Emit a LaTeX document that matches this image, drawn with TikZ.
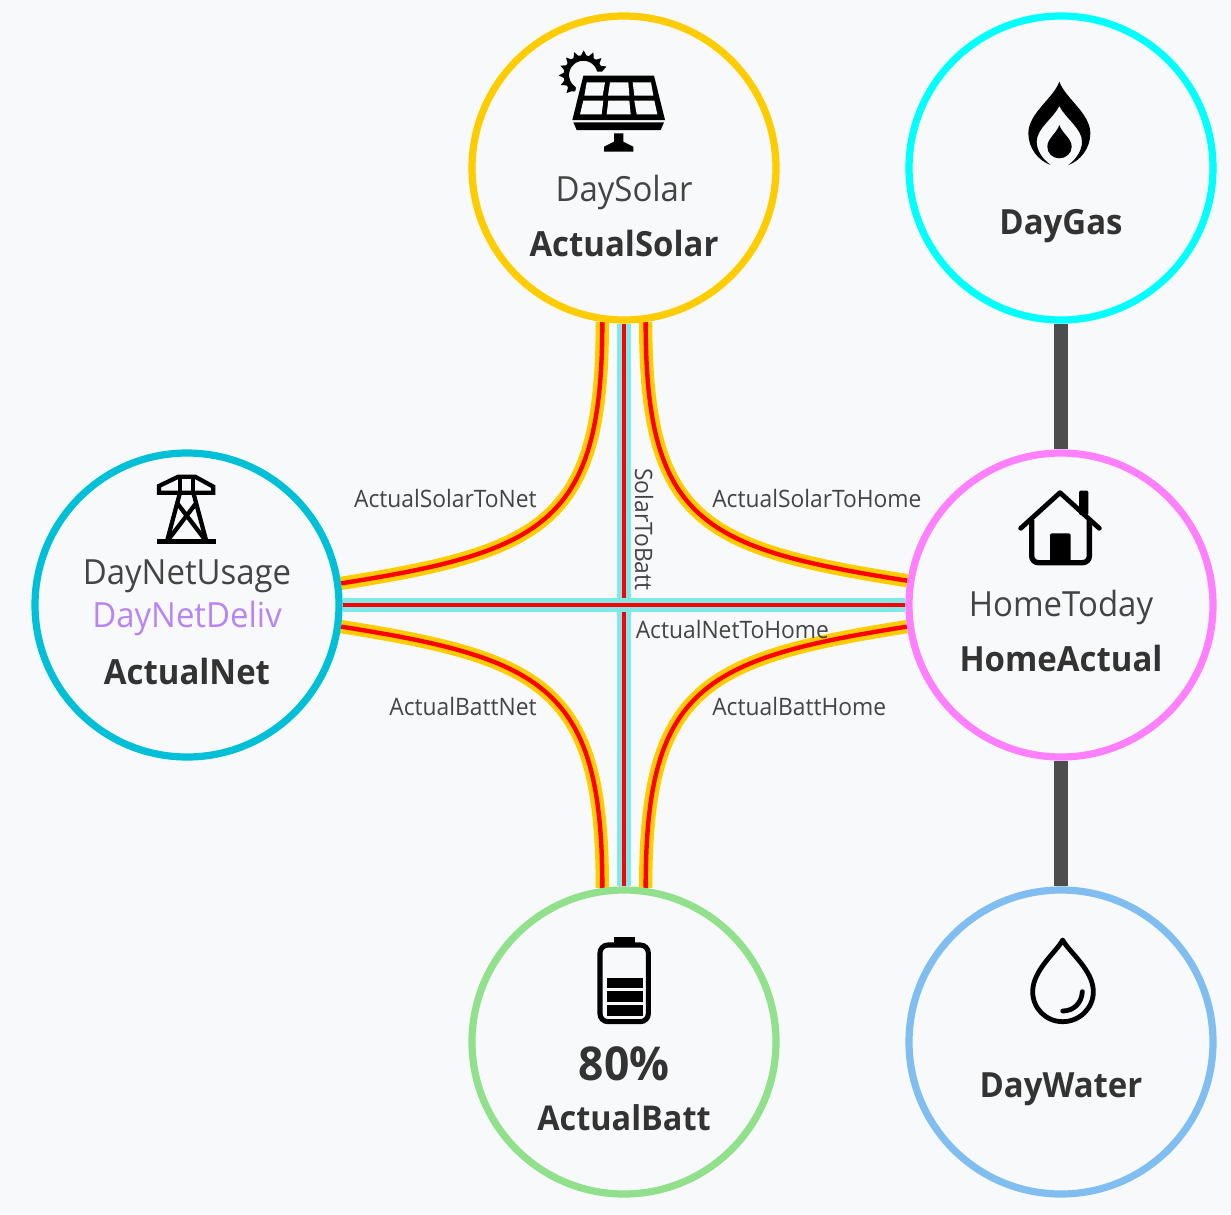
\documentclass[tikz,border=0pt]{standalone}
\usepackage{fontspec}
\setmainfont[FakeStretch=0.95]{Open Sans}
\pgfdeclarelayer{bgl}
\pgfdeclarelayer{links}
\pgfsetlayers{bgl,links,main}
\definecolor{pagebg}{HTML}{F8F9FA}
\definecolor{cyel}{HTML}{FFCC00}
\definecolor{ccya}{HTML}{00FFFF}
\definecolor{cnet}{HTML}{00C0D8}
\definecolor{chom}{HTML}{FF80FF}
\definecolor{cbat}{HTML}{90E08C}
\definecolor{cwat}{HTML}{80BDF0}
\definecolor{cturq}{HTML}{7FE9E9}
\definecolor{cgrey}{HTML}{4D4D4D}
\definecolor{cdel}{HTML}{B985F5}
\definecolor{ctxt}{HTML}{444444}
\definecolor{cbold}{HTML}{333333}
\tikzset{
  hub/.style={circle,draw=#1,line width=5.4pt,minimum size=228pt,inner sep=0pt,fill=none},
  lightt/.style={anchor=base,font=\fontsize{26}{26}\selectfont,text=ctxt,inner sep=0pt},
  boldt/.style={anchor=base,font=\fontsize{26}{26}\selectfont\bfseries,text=cbold,inner sep=0pt},
  flowt/.style={font=\fontsize{18}{18}\selectfont,text=ctxt,inner sep=0pt},
  icon/.style={x=0.25pt,y=-0.25pt},
}
\newcommand{\solarflow}[1]{%
  \draw[cyel,line width=10pt] #1;
  \draw[red,line width=3.3pt] #1;}
\newcommand{\straightflow}[1]{%
  \draw[cturq,line width=10pt] #1;
  \draw[red,line width=3.3pt] #1;}
\begin{document}
\begin{tikzpicture}[x=0.75pt,y=-0.75pt]
\begin{pgfonlayer}{bgl}
\fill[pagebg] (0,0) rectangle (1231,1214);
\end{pgfonlayer}
\useasboundingbox (0,0) rectangle (1231,1214);
\node[hub=cyel] (solar) at (624,168) {};
\node[hub=ccya] (gas) at (1061,168) {};
\node[hub=cnet] (net) at (187,605) {};
\node[hub=chom] (home) at (1061,605) {};
\node[hub=cbat] (batt) at (624,1042) {};
\node[hub=cwat] (water) at (1061,1042) {};
\begin{pgfonlayer}{links}
\draw[cgrey,line width=10pt] (gas.south) -- (home.north);
\draw[cgrey,line width=10pt] (home.south) -- (water.north);
\straightflow{(solar.south) -- (batt.north)}
\straightflow{(net.east) -- (home.west)}
\solarflow{(solar.-98) .. controls +(0,200) and +(204,-32) .. (net.8.5)}
\solarflow{(solar.-82) .. controls +(0,200) and +(-204,-32) .. (home.171.5)}
\solarflow{(batt.98) .. controls +(0,-200) and +(204,32) .. (net.-8.5)}
\solarflow{(batt.82) .. controls +(0,-200) and +(-204,32) .. (home.188.5)}
\end{pgfonlayer}
% texts
\node[lightt] (t1) at (624,201) {DaySolar};
\node[boldt] (t2) at (624,256) {ActualSolar};
\node[boldt] (t3) at (1061,234) {DayGas};
\node[lightt] (t4) at (187,584) {DayNetUsage};
\node[lightt,text=cdel] (t5) at (187,627) {DayNetDeliv};
\node[boldt] (t6) at (187,684) {ActualNet};
\node[lightt] (t7) at (1061,616) {HomeToday};
\node[boldt] (t8) at (1061,671) {HomeActual};
\node[boldt,font=\fontsize{35}{35}\selectfont\bfseries] (t9) at (624,1080) {80\%};
\node[boldt,font=\fontsize{25.6}{26}\selectfont\bfseries] (t10) at (624,1130) {ActualBatt};
\node[boldt] (t11) at (1061,1097) {DayWater};
\node[flowt,anchor=base east] (l1) at (537,507) {ActualSolarToNet};
\node[flowt,anchor=base west] (l2) at (712,507) {ActualSolarToHome};
\node[flowt,anchor=base west] (l3) at (635.5,638) {ActualNetToHome};
\node[flowt,anchor=base east] (l4) at (537,715) {ActualBattNet};
\node[flowt,anchor=base west] (l5) at (712,715) {ActualBattHome};
\node[flowt,anchor=base west,rotate=-90] (l6) at (635,468) {SolarToBatt};
% solar icon
\begin{scope}[shift={(540,30)},icon]
\draw[line width=4.1pt,line cap=round] (179.3,121.8) arc[start angle=-15,end angle=-235,radius=51];
\foreach \a in {20,43,...,240}{
  \fill ({130+56*cos(\a-10)},{135-56*sin(\a-10)}) -- ({130+74*cos(\a)},{135-74*sin(\a)}) -- ({130+56*cos(\a+10)},{135-56*sin(\a+10)}) -- cycle;
}
\fill[pagebg] (118,125) -- (350,125) -- (385,272) -- (88,272) -- cycle;
\fill (130,137) -- (342,137) -- (375,270) -- (97,270) -- cycle;
\fill[pagebg] (140,157)--(195,157)--(188,197)--(133,197)--cycle;
\fill[pagebg] (210,157)--(265,157)--(268,197)--(204,197)--cycle;
\fill[pagebg] (278,157)--(333,157)--(340,197)--(283,197)--cycle;
\fill[pagebg] (130,212)--(190,212)--(185,253)--(120,253)--cycle;
\fill[pagebg] (205,212)--(268,212)--(272,253)--(200,253)--cycle;
\fill[pagebg] (283,212)--(343,212)--(352,253)--(290,253)--cycle;
\fill (100,277)--(372,277)--(362,300)--(110,300)--cycle;
\fill (222,310)--(250,310)--(250,335)--(280,350)--(280,365)--(192,365)--(192,350)--(222,335)--cycle;
\end{scope}
% tower icon
\begin{scope}[shift={(130,460)},icon]
\draw[line width=3.4pt] (80,245) -- (258,245);
\draw[line width=3.2pt,line join=miter] (145,50) -- (195,50) -- (250,80) -- (250,98) -- (87,98) -- (87,78) -- cycle;
\draw[line width=3.2pt] (150,50) -- (150,98) (190,50) -- (190,98);
\draw[line width=3.2pt] (150,98) -- (112,240) (190,98) -- (228,240);
\draw[line width=3.2pt] (142,130) -- (222,235) (198,130) -- (118,235);
\end{scope}
% house icon
\begin{scope}[shift={(1000,470)},icon]
\fill[rounded corners=1pt] (237,135) -- (237,62) -- (265,62) -- (265,135) -- cycle;
\draw[line width=3.6pt,line cap=round,line join=round] (62,175) -- (180,68) -- (298,175);
\draw[line width=4pt,rounded corners=5pt] (95,150) -- (95,278) -- (268,278) -- (268,150);
\fill[rounded corners=1.5pt] (150,280) -- (150,190) -- (212,190) -- (212,280) -- cycle;
\end{scope}
% battery icon
\begin{scope}[shift={(570,925)},icon]
\fill (132,37) rectangle (195,60);
\draw[line width=3.8pt,rounded corners=6pt] (90,60) rectangle (235,290);
\fill (110,158) rectangle (218,188);
\fill (110,198) rectangle (218,230);
\fill (110,240) rectangle (218,272);
\end{scope}
% flame icon
\begin{scope}[shift={(1010,70)},icon]
\fill (148,35) .. controls (130,85) and (55,130) .. (55,190)
  .. controls (55,235) and (85,272) .. (122,285)
  .. controls (95,265) and (80,240) .. (80,215)
  .. controls (80,175) and (130,145) .. (148,108)
  .. controls (166,145) and (216,175) .. (216,215)
  .. controls (216,240) and (201,265) .. (175,285)
  .. controls (211,272) and (241,235) .. (241,190)
  .. controls (241,130) and (166,85) .. (148,35) -- cycle;
\fill (148,165) .. controls (140,190) and (112,205) .. (112,230)
  .. controls (112,250) and (128,265) .. (148,265)
  .. controls (168,265) and (185,250) .. (185,230)
  .. controls (185,205) and (156,190) .. (148,165) -- cycle;
\end{scope}
% water icon
\begin{scope}[shift={(1010,925)},icon]
\draw[line width=3.6pt,line join=round] (158,45) .. controls (140,80) and (68,135) .. (68,200)
  .. controls (68,250) and (108,290) .. (158,290)
  .. controls (208,290) and (250,250) .. (250,200)
  .. controls (250,135) and (176,80) .. (158,45) -- cycle;
\draw[line width=3.6pt,line cap=round] (217,200) .. controls (215,235) and (190,258) .. (158,258);
\end{scope}
\end{tikzpicture}
\end{document}
